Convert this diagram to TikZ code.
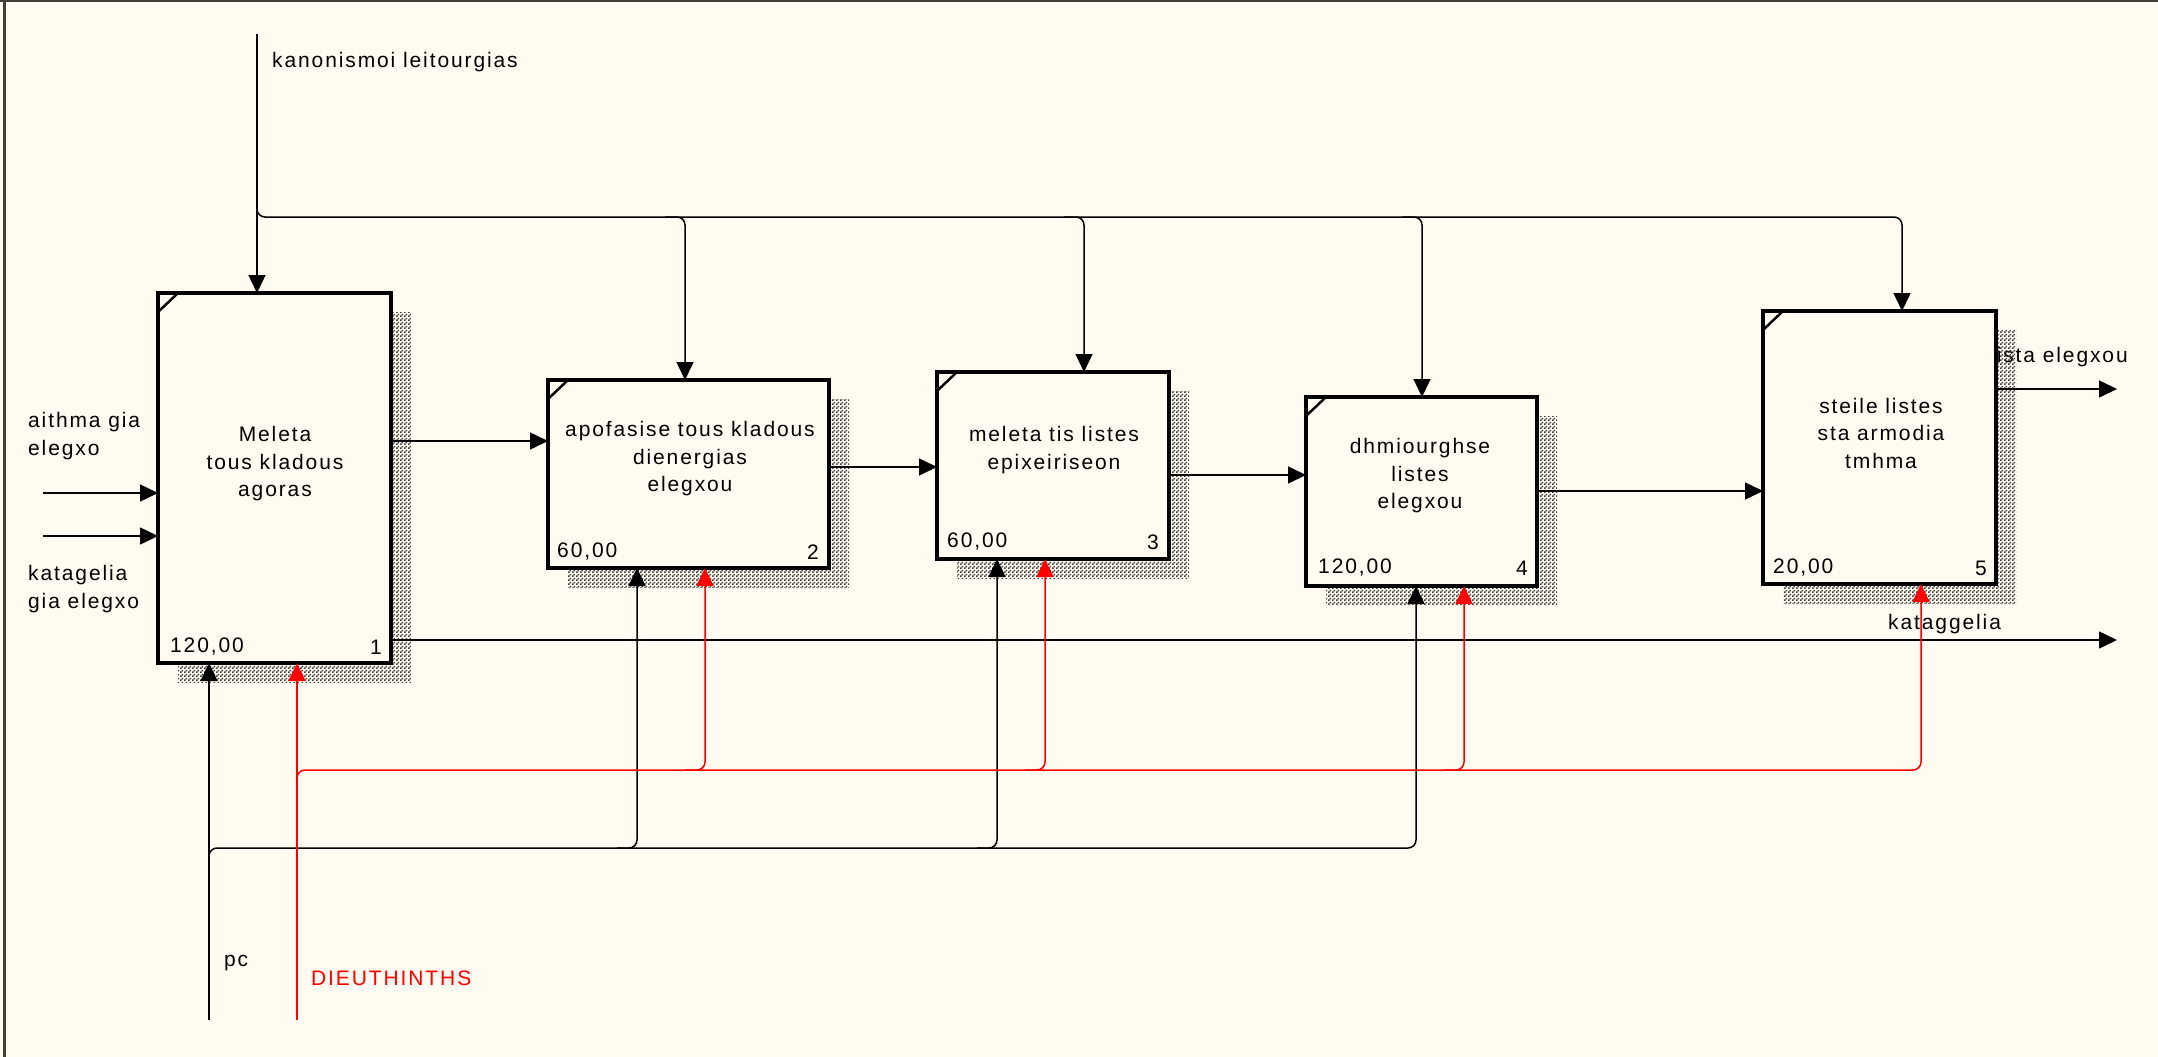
\documentclass[tikz,border=0pt]{standalone}
\usepackage{fontspec}
\setmainfont{Liberation Sans}[LetterSpace=9]
\usetikzlibrary{arrows.meta,calc,patterns}
\definecolor{bgc}{RGB}{255,251,240}
\definecolor{framec}{RGB}{64,64,56}
\definecolor{shade}{RGB}{60,60,60}
\pgfdeclarepatternformonly{finecheck}{\pgfpointorigin}{\pgfpoint{4pt}{4pt}}{\pgfpoint{4pt}{4pt}}{%
  \pgfpathrectangle{\pgfpointorigin}{\pgfpoint{2pt}{2pt}}%
  \pgfpathrectangle{\pgfpoint{2pt}{2pt}}{\pgfpoint{2pt}{2pt}}%
  \pgfusepath{fill}}
\pgfdeclarelayer{back}
\pgfsetlayers{back,main}
\tikzset{
 box/.style={draw, line width=3.5pt, fill=bgc, outer sep=0pt, inner sep=0pt, anchor=north west},
 conn/.style={line width=1.5pt, -{Triangle[length=18pt,width=17pt]}, rounded corners=8pt},
 lbl/.style={inner sep=0pt, font=\fontsize{21}{27.5}\selectfont},
 ttl/.style={lbl, align=center},
 cost/.style={lbl, anchor=west},
 num/.style={lbl, anchor=east},
 corner/.style={line width=2.5pt},
 shadowbox/.style={pattern=finecheck, pattern color=shade},
}
\begin{document}
\begin{tikzpicture}[x=1pt,y=-1pt]
\useasboundingbox (0,0) rectangle (2158,1057);
\begin{pgfonlayer}{back}
\fill[bgc] (0,0) rectangle (2158,1057);
\end{pgfonlayer}
\fill[framec] (0,0) rectangle (2158,2.5);
\fill[framec] (3,0) rectangle (5.5,1057);

% boxes
\node[box, minimum width=233pt, minimum height=370pt] (b1) at (158,293) {};
\node[box, minimum width=281pt, minimum height=188pt] (b2) at (548,380) {};
\node[box, minimum width=232pt, minimum height=187pt] (b3) at (937,372) {};
\node[box, minimum width=231pt, minimum height=189pt] (b4) at (1306,397) {};
\node[box, minimum width=233pt, minimum height=273pt] (b5) at (1763,311) {};

\begin{pgfonlayer}{back}
\node[lbl, anchor=west] (llista) at (1990,357) {lista elegxou};
\foreach \b in {b1,b2,b3,b4,b5}
  \fill[shadowbox] ($(\b.north west)+(20,19)$) rectangle ($(\b.south east)+(20,19)$);
\end{pgfonlayer}

\foreach \b in {b1,b2,b3,b4,b5}
  \draw[corner] ($(\b.north west)+(0,19)$) -- ($(\b.north west)+(20,0)$);

% titles
\node[ttl] (t1) at (275,464) {Meleta\\tous kladous\\agoras};
\node[ttl] (t2) at (690,459) {apofasise tous kladous\\dienergias\\elegxou};
\node[ttl] (t3) at (1054,450) {meleta tis listes\\epixeiriseon};
\node[ttl] (t4) at (1420,476) {dhmiourghse\\listes\\elegxou};
\node[ttl] (t5) at (1881,433) {steile listes\\sta armodia\\tmhma};

% costs and numbers
\node[cost] (c1) at (170,647) {120,00};  \node[num] (n1) at (382,647) {1};
\node[cost] (c2) at (557,552) {60,00};   \node[num] (n2) at (819,552) {2};
\node[cost] (c3) at (947,542) {60,00};   \node[num] (n3) at (1159,542) {3};
\node[cost] (c4) at (1318,568) {120,00}; \node[num] (n4) at (1528,568) {4};
\node[cost] (c5) at (1773,568) {20,00};  \node[num] (n5) at (1987,568) {5};

% controls
\coordinate (kan) at (257,34);
\coordinate (k0) at (257,217);
\coordinate (k2) at (685,217);
\coordinate (k3) at (1084,217);
\coordinate (k4) at (1422,217);
\coordinate (k5) at (1902,217);
\draw[conn] (kan) -- (b1.north -| kan);
\draw[conn] ($(k0)+(0,-12)$) -- (k0) -- (k5) -- (b5.north -| k5);
\draw[conn] ($(k2)+(-20,0)$) -- (k2) -- (b2.north -| k2);
\draw[conn] ($(k3)+(-20,0)$) -- (k3) -- (b3.north -| k3);
\draw[conn] ($(k4)+(-20,0)$) -- (k4) -- (b4.north -| k4);

% inputs
\coordinate (i1) at (43,493);
\coordinate (i2) at (43,536);
\draw[conn] (i1) -- (b1.west |- i1);
\draw[conn] (i2) -- (b1.west |- i2);

% flows
\coordinate (o12) at (470,441);
\coordinate (o23) at (880,467);
\coordinate (o34) at (1240,475);
\coordinate (o45) at (1650,491);
\coordinate (o5) at (2117,389);
\coordinate (ok) at (2117,640);
\draw[conn] (b1.east |- o12) -- (b2.west |- o12);
\draw[conn] (b2.east |- o23) -- (b3.west |- o23);
\draw[conn] (b3.east |- o34) -- (b4.west |- o34);
\draw[conn] (b4.east |- o45) -- (b5.west |- o45);
\draw[conn] (b5.east |- o5) -- (o5);
\draw[conn] (b1.east |- ok) -- (ok);

% mechanisms pc
\coordinate (pc) at (209,1020);
\coordinate (m0) at (209,848);
\coordinate (m2) at (637,848);
\coordinate (m3) at (997,848);
\coordinate (m4) at (1416,848);
\draw[conn] (pc) -- (b1.south -| pc);
\draw[conn] ($(m0)+(0,12)$) -- (m0) -- (m4) -- (b4.south -| m4);
\draw[conn] ($(m2)+(-20,0)$) -- (m2) -- (b2.south -| m2);
\draw[conn] ($(m3)+(-20,0)$) -- (m3) -- (b3.south -| m3);

% mechanisms DIEUTHINTHS
\coordinate (dir) at (297,1020);
\coordinate (r0) at (297,770);
\coordinate (r2) at (705,770);
\coordinate (r3) at (1045,770);
\coordinate (r4) at (1464,770);
\coordinate (r5) at (1921,770);
\draw[conn, red] (dir) -- (b1.south -| dir);
\draw[conn, red] ($(r0)+(0,12)$) -- (r0) -- (r5) -- (b5.south -| r5);
\draw[conn, red] ($(r2)+(-20,0)$) -- (r2) -- (b2.south -| r2);
\draw[conn, red] ($(r3)+(-20,0)$) -- (r3) -- (b3.south -| r3);
\draw[conn, red] ($(r4)+(-20,0)$) -- (r4) -- (b4.south -| r4);

% labels
\node[lbl, anchor=west] (lkan) at (272,62) {kanonismoi leitourgias};
\node[lbl, anchor=west, align=left] (lin1) at (28,436) {aithma gia\\elegxo};
\node[lbl, anchor=west, align=left] (lin2) at (28,589) {katagelia\\gia elegxo};
\node[lbl, anchor=west] (lkat) at (1888,624) {kataggelia};
\node[lbl, anchor=west] (lpc) at (224,963) {pc};
\node[lbl, anchor=west, text=red] (ldir) at (311,978) {DIEUTHINTHS};
\end{tikzpicture}
\end{document}
